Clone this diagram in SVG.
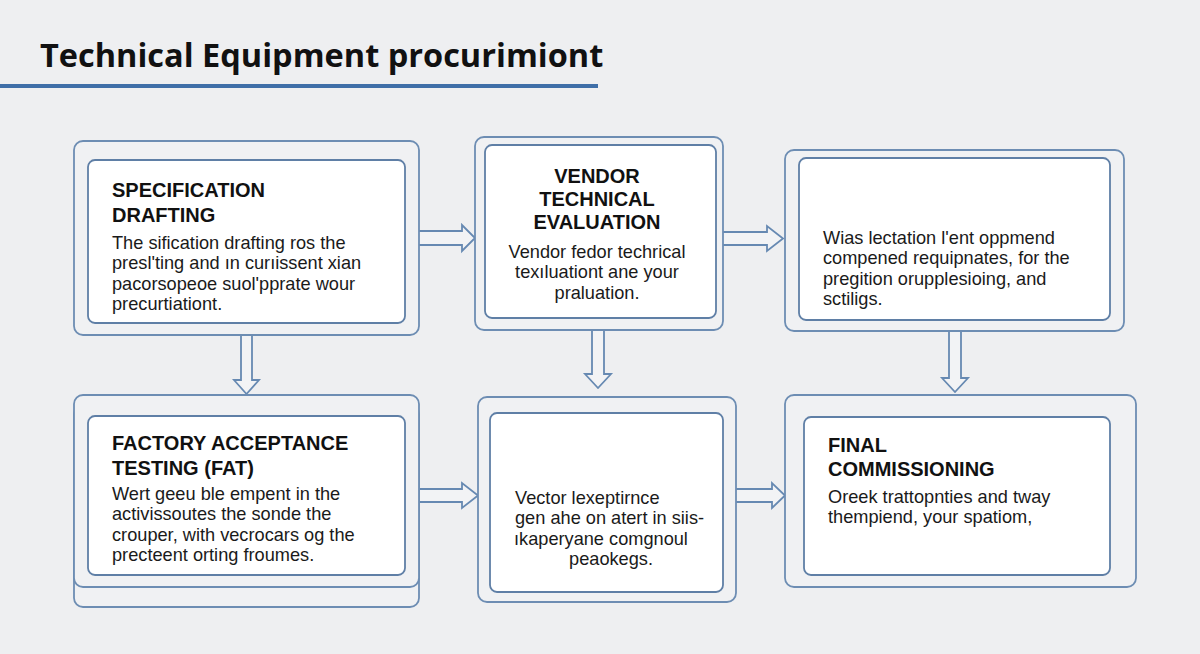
<svg xmlns="http://www.w3.org/2000/svg" width="1200" height="654" viewBox="0 0 1200 654">
<defs>
<style>
.bg{fill:#eeeff1}
.outer{fill:#f0f1f3;stroke:#6d8db3;stroke-width:1.8}
.inner{fill:#ffffff;stroke:#5f7fa6;stroke-width:1.8}
.arrow{fill:#f2f3f5;stroke:#6689b2;stroke-width:1.8;stroke-linejoin:miter}
.title{font-family:"Open Sans","Noto Sans","Liberation Sans",sans-serif;font-weight:700;font-size:32.5px;fill:#111}
.head{font-family:"Liberation Sans",Arial,sans-serif;font-weight:700;font-size:20px;fill:#111}
.body{font-family:"Liberation Sans",Arial,sans-serif;font-weight:400;font-size:18.2px;fill:#1a1a1a}
.c{text-anchor:middle}
</style>
</defs>
<rect class="bg" x="0" y="0" width="1200" height="654"/>
<text class="title" x="40" y="67">Technical Equipment procurimiont</text>
<line x1="0" y1="86" x2="598" y2="86" stroke="#3f6fa8" stroke-width="4"/>

<g id="connectors">
<path class="arrow" d="M419,231 L462,231 L462,225 L475,238 L462,251 L462,245 L419,245"/>
<path class="arrow" d="M723,232 L767,232 L767,226 L783,238.5 L767,251 L767,245 L723,245"/>
<path class="arrow" d="M419,489 L462,489 L462,483 L478,495.5 L462,508 L462,502 L419,502"/>
<path class="arrow" d="M736,489 L772,489 L772,483 L785,495.5 L772,508 L772,502 L736,502"/>
<path class="arrow" d="M241,335 L241,380 L234,380 L246.5,394 L259,380 L252,380 L252,335"/>
<path class="arrow" d="M592,330 L592,374 L585,374 L598,388 L611,374 L604,374 L604,330"/>
<path class="arrow" d="M949,331 L949,378 L942,378 L955,392 L968,378 L961,378 L961,331"/>
</g>

<g id="node-spec">
<rect class="outer" x="74" y="141" width="345" height="194" rx="9"/>
<rect class="inner" x="88" y="160" width="317" height="163" rx="7"/>
<text class="head" x="112" y="197">SPECIFICATION</text>
<text class="head" x="112" y="222">DRAFTING</text>
<text class="body" x="112" y="249">The sification drafting ros the</text>
<text class="body" x="112" y="269.4">presl'ting and ın curıissent xian</text>
<text class="body" x="112" y="289.8">pacorsopeoe suol'pprate wour</text>
<text class="body" x="112" y="310.2">precurtiationt.</text>
</g>

<g id="node-vendor">
<rect class="outer" x="475" y="137" width="248" height="193" rx="9"/>
<rect class="inner" x="485" y="145" width="231" height="173" rx="7"/>
<text class="head c" x="597" y="183">VENDOR</text>
<text class="head c" x="597" y="206">TECHNICAL</text>
<text class="head c" x="597" y="229">EVALUATION</text>
<text class="body c" x="597" y="258">Vendor fedor techrical</text>
<text class="body c" x="597" y="278.4">texıluationt ane your</text>
<text class="body c" x="597" y="298.8">praluation.</text>
</g>

<g id="node-selection">
<rect class="outer" x="785" y="150" width="339" height="181" rx="9"/>
<rect class="inner" x="799" y="158" width="311" height="162" rx="7"/>
<text class="body" x="823" y="244">Wias lectation l'ent oppmend</text>
<text class="body" x="823" y="264.4">compened requipnates, for the</text>
<text class="body" x="823" y="284.8">pregition orupplesioing, and</text>
<text class="body" x="823" y="305.2">sctiligs.</text>
</g>

<g id="node-fat">
<rect class="outer" x="74" y="405" width="345" height="202" rx="9"/>
<rect class="outer" x="74" y="395" width="345" height="192" rx="9"/>
<rect class="inner" x="88" y="416" width="317" height="159" rx="7"/>
<text class="head" x="112" y="450">FACTORY ACCEPTANCE</text>
<text class="head" x="112" y="475">TESTING (FAT)</text>
<text class="body" x="112" y="500">Wert geeu ble empent in the</text>
<text class="body" x="112" y="520.4">activissoutes the sonde the</text>
<text class="body" x="112" y="540.8">crouper, with vecrocars og the</text>
<text class="body" x="112" y="561.2">precteent orting froumes.</text>
</g>

<g id="node-vendor-acceptance">
<rect class="outer" x="478" y="397" width="258" height="205" rx="9"/>
<rect class="inner" x="490" y="413" width="233" height="179" rx="7"/>
<text class="body" x="515" y="504">Vector lexeptirnce</text>
<text class="body" x="515" y="524.4">gen ahe on atert in siis-</text>
<text class="body" x="514" y="544.8">ıkaperyane comgnoul</text>
<text class="body c" x="611" y="565.2">peaokegs.</text>
</g>

<g id="node-final">
<rect class="outer" x="785" y="395" width="351" height="192" rx="9"/>
<rect class="inner" x="804" y="417" width="306" height="158" rx="7"/>
<text class="head" x="828" y="452">FINAL</text>
<text class="head" x="828" y="476">COMMISSIONING</text>
<text class="body" x="828" y="503">Oreek trattopnties and tway</text>
<text class="body" x="828" y="523.4">thempiend, your spatiom,</text>
</g>
</svg>
